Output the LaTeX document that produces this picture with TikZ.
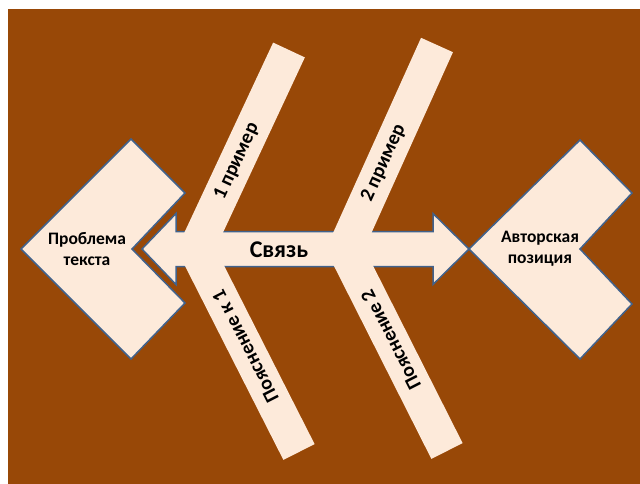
\documentclass[tikz,border=0pt]{standalone}
\usepackage{fontspec}
\setmainfont{Carlito}
\usepackage{tikz}
\usetikzlibrary{positioning}

\definecolor{bgbrown}{HTML}{984807}
\definecolor{peach}{HTML}{FDEADA}
\definecolor{edgeblue}{HTML}{41628C}

\begin{document}
\begin{tikzpicture}[
  x=1pt, y=-1pt,
  chev/.style={fill=peach, draw=edgeblue, line width=1.5pt},
  bone/.style={draw=peach, line width=35pt},
  lbl/.style={font=\bfseries\fontsize{17.5}{21}\selectfont, align=center, text=black},
  bonelbl/.style={font=\bfseries\fontsize{20}{22}\selectfont, text=black, inner sep=0pt},
  biglbl/.style={font=\bfseries\fontsize{24}{26}\selectfont, text=black}
]
  \useasboundingbox (0,0) rectangle (640,484);
  \fill[bgbrown] (8,9) rectangle (640,484);

  % chevrons
  \draw[chev] (21,249) -- (131,139) -- (185,193) -- (132,249) -- (185,303) -- (131,359) -- cycle;
  \draw[chev] (469,249) -- (580,140) -- (632,193) -- (580,249) -- (632,304) -- (580,359) -- cycle;
  \node[lbl] (problem) at (87,249) {Проблема\\текста};
  \node[lbl] (position) at (540,249) {Авторская\\позиция};

  % double arrow
  \draw[chev] (142,249) -- (176,213.5) -- (176,231.5) -- (433,231.5) -- (433,213.5)
    -- (469,249) -- (433,284.5) -- (433,266.5) -- (176,266.5) -- (176,284.5) -- cycle;

  % bones
  \coordinate (j1) at (196,249);
  \coordinate (j2) at (345,249);
  \coordinate (top1) at (289,50);
  \coordinate (bot1) at (299,452);
  \coordinate (top2) at (437,45);
  \coordinate (bot2) at (447,451);
  \draw[bone] (j1) -- (top1) node[bonelbl, pos=0.44, rotate=65] (ex1) {1 пример};
  \draw[bone] (j1) -- (bot1) node[bonelbl, pos=0.48, rotate=117] (note1) {Пояснение к 1};
  \draw[bone] (j2) -- (top2) node[bonelbl, pos=0.42, rotate=65.5] (ex2) {2 пример};
  \draw[bone] (j2) -- (bot2) node[bonelbl, pos=0.45, rotate=117] (note2) {Пояснение 2};

  \node[biglbl] (link) at (279,250) {Связь};
\end{tikzpicture}
\end{document}
